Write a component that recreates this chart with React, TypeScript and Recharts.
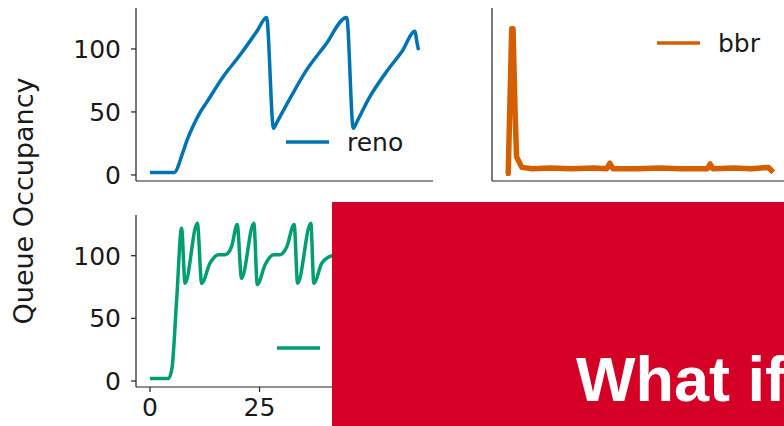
import { LineChart, Line, XAxis, YAxis, Legend } from 'recharts';

// reno (top left)
const renoX = [0, 5.5, 7.5, 8.5, 10, 11.5, 13, 16.5, 20.5, 24.4, 26.6, 28.2, 29, 32, 35.5, 40, 44.9, 46.4, 47.2, 50, 54, 57.5, 60.5, 60.9, 61.3];
const renoY = [2, 2, 18, 28, 40, 50, 58, 77, 95, 114, 125, 37, 42, 61, 82, 103, 125, 37, 42, 61, 82, 98, 114, 106, 99];

// bbr (top right)
const bbrX = [0, 0.5, 1.3, 1.6, 2.05, 2.4, 3.6, 6, 10, 15, 20, 23, 23.7, 24.4, 30, 35, 40, 46, 46.6, 47.2, 52, 56, 59.9, 61];
const bbrY = [1.3, 1.3, 116, 116, 52, 14.5, 6, 5, 5.5, 5, 5.5, 5, 9.3, 5, 5, 5.5, 5, 5, 8.7, 5, 5.5, 5, 6, 2];

// cubic (bottom left, mostly hidden by the banner)
const cubicX = [0, 4.2, 5, 6.1, 7.2, 8, 10.8, 11.8, 13.7, 15.6, 17.1, 18.6, 19.9, 20.9, 23.7, 24.5, 26.3, 28.2, 29.7, 31.2, 32.9, 33.7, 36.7, 37.4, 39.2, 41.1, 42.6, 44];
const cubicY = [2, 2, 10, 66, 122, 78, 126, 78, 94, 100.8, 100.8, 107, 125, 82, 126, 77, 93, 100.8, 100.8, 107, 125, 78, 126, 78, 94, 99.5, 101, 107];

const xTicks = [0, 25, 50];
const yTicks = [0, 50, 100];

const X_DOMAIN = [-3.2, 64.6];
const Y_DOMAIN = [-4.8, 132.5];

const rows = (xs: number[], ys: number[]) => xs.map((x, i) => ({ x, y: ys[i] }));

const AXIS = { stroke: '#222', strokeWidth: 1.2 };
const TICK = { fill: '#1a1a1a', fontSize: 25 };

const legendBox = (name: string, color: string) => () => (
  <svg width={140} height={30} style={{ display: 'block' }}>
    <line x1={0} y1={15} x2={43} y2={15} stroke={color} strokeWidth={3.5} />
    <text x={61} y={15} dy="0.355em" fontSize={25} fill="#1a1a1a">
      {name}
    </text>
  </svg>
);

interface PanelProps {
  data: { x: number; y: number }[];
  color: string;
  name: string;
  width: number;
  height: number;
  margin: { top: number; right: number; bottom: number; left: number };
  yWidth: number;
  xHeight: number;
  showX: boolean;
  showY: boolean;
  legendPos: { left: number; top: number };
  strokeWidth: number;
  curve: 'monotone' | 'linear';
}

function Panel(p: PanelProps) {
  return (
    <LineChart width={p.width} height={p.height} margin={p.margin}>
      <XAxis
        type="number"
        dataKey="x"
        domain={X_DOMAIN}
        allowDataOverflow
        ticks={xTicks}
        height={p.xHeight}
        axisLine={AXIS}
        tickLine={AXIS}
        tickSize={5}
        tickMargin={6}
        tick={p.showX ? TICK : false}
      />
      <YAxis
        type="number"
        dataKey="y"
        domain={Y_DOMAIN}
        allowDataOverflow
        ticks={yTicks}
        width={p.yWidth}
        axisLine={AXIS}
        tickLine={AXIS}
        tickSize={5}
        tickMargin={10}
        tick={p.showY ? TICK : false}
      />
      <Legend
        layout="horizontal"
        verticalAlign="middle"
        align="center"
        content={legendBox(p.name, p.color)}
        wrapperStyle={{ left: p.legendPos.left, top: p.legendPos.top, width: 140, height: 30 }}
      />
      <Line
        data={p.data}
        dataKey="y"
        name={p.name}
        type={p.curve}
        stroke={p.color}
        strokeWidth={p.strokeWidth}
        strokeLinejoin="round"
        dot={false}
        isAnimationActive={false}
      />
    </LineChart>
  );
}

export default function App() {
  return (
    <div
      style={{
        position: 'absolute',
        left: 0,
        top: 0,
        width: 784,
        height: 426,
        overflow: 'hidden',
        background: '#fff',
        fontFamily: '"DejaVu Sans", sans-serif',
      }}
    >
      <div style={{ position: 'absolute', left: 0, top: 0 }}>
        <Panel
          data={rows(renoX, renoY)}
          color="#0173b2"
          name="reno"
          width={440}
          height={200}
          margin={{ top: 8, right: 7, bottom: 0, left: 0 }}
          yWidth={136}
          xHeight={19}
          showX={false}
          showY
          legendPos={{ left: 286, top: 127 }}
          strokeWidth={3.5}
          curve="monotone"
        />
      </div>
      <div style={{ position: 'absolute', left: 440, top: 0 }}>
        <Panel
          data={rows(bbrX, bbrY)}
          color="#d55e00"
          name="bbr"
          width={360}
          height={200}
          margin={{ top: 8, right: 11, bottom: 0, left: 0 }}
          yWidth={52}
          xHeight={19}
          showX={false}
          showY={false}
          legendPos={{ left: 217, top: 28 }}
          strokeWidth={5.5}
          curve="linear"
        />
      </div>
      <div style={{ position: 'absolute', left: 0, top: 200 }}>
        <Panel
          data={rows(cubicX, cubicY)}
          color="#029e73"
          name="cubic"
          width={440}
          height={226}
          margin={{ top: 15, right: 7, bottom: 0, left: 0 }}
          yWidth={136}
          xHeight={39}
          showX
          showY
          legendPos={{ left: 277, top: 133 }}
          strokeWidth={3.5}
          curve="monotone"
        />
      </div>
      <svg width={60} height={426} style={{ position: 'absolute', left: 0, top: 0 }}>
        <text
          transform="translate(33,201) rotate(-90)"
          textAnchor="middle"
          fontSize={27}
          fill="#1a1a1a"
        >
          Queue Occupancy
        </text>
      </svg>
      <div
        style={{
          position: 'absolute',
          left: 332,
          top: 202,
          width: 452,
          height: 224,
          background: '#d40025',
        }}
      >
        <span
          style={{
            position: 'absolute',
            left: 244,
            top: 146,
            fontFamily: '"Liberation Sans", Arial, sans-serif',
            fontWeight: 'bold',
            fontSize: 63,
            lineHeight: 1,
            color: '#fff',
            whiteSpace: 'nowrap',
          }}
        >
          What if
        </span>
      </div>
    </div>
  );
}
